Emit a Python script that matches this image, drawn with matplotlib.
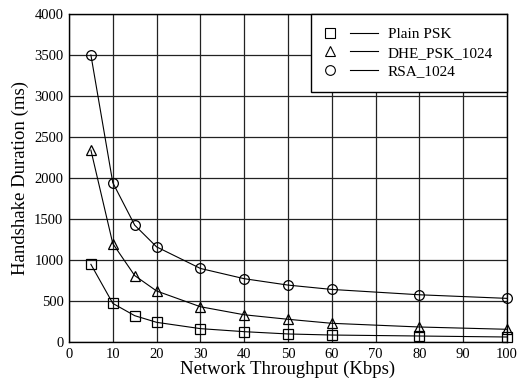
import matplotlib
matplotlib.use("Agg")
import matplotlib.pyplot as plt
from matplotlib.lines import Line2D

throughput = [5, 10, 15, 20, 30, 40, 50, 60, 80, 100]
plain_psk = [947, 471, 321, 240, 163, 126, 98, 85, 73, 61]
dhe_psk_1024 = [2340, 1200, 810, 622, 430, 332, 277, 228, 183, 155]
rsa_1024 = [3500, 1943, 1425, 1160, 897, 772, 694, 641, 576, 532]

series = [
    ("Plain PSK", plain_psk, "s"),
    ("DHE_PSK_1024", dhe_psk_1024, "^"),
    ("RSA_1024", rsa_1024, "o"),
]


class MarkerThenLine:
    # marker on the left, short line segment on the right (as in the original legend)
    def legend_artist(self, legend, orig_handle, fontsize, handlebox):
        x0, y0 = handlebox.xdescent, handlebox.ydescent
        w, h = handlebox.width, handlebox.height
        ym = y0 + h / 2
        m = Line2D([x0 + 0.11 * w], [ym], ls="none", marker=orig_handle.get_marker(),
                   markersize=7, markerfacecolor="none", markeredgecolor="black",
                   markeredgewidth=0.8)
        ln = Line2D([x0 + 0.47 * w, x0 + w], [ym, ym], color="black", lw=0.8)
        handlebox.add_artist(m)
        handlebox.add_artist(ln)
        return m


plt.rcParams["font.family"] = ["Liberation Serif", "DejaVu Serif"]

fig = plt.figure(figsize=(5.18, 3.78), dpi=100)
ax = fig.add_axes([69 / 518, 1 - 342 / 378, 438 / 518, 328 / 378])

lines = []
for label, vals, mk in series:
    ln, = ax.plot(throughput, vals, color="black", lw=0.8, marker=mk, markersize=7,
                  markerfacecolor="none", markeredgecolor="black", markeredgewidth=0.9,
                  clip_on=False, zorder=3, label=label)
    lines.append(ln)

ax.set_xlim(0, 100)
ax.set_ylim(0, 4000)
ax.set_xticks(range(0, 101, 10))
ax.set_yticks(range(0, 4001, 500))
ax.grid(True, color="#222222", lw=0.9)
ax.set_axisbelow(True)
ax.tick_params(length=0, labelsize=10.5, pad=4)
for sp in ax.spines.values():
    sp.set_linewidth(1.0)

ax.set_xlabel("Network Throughput (Kbps)", fontsize=13.5, labelpad=0)
ax.set_ylabel("Handshake Duration (ms)", fontsize=13.5, labelpad=4)

leg = ax.legend(handles=lines, handler_map={Line2D: MarkerThenLine()},
                loc="upper right", bbox_to_anchor=(1.0, 1.0), borderaxespad=0,
                fontsize=11, handlelength=3.5, handletextpad=0.65, labelspacing=0.3,
                fancybox=False, framealpha=1, edgecolor="black", borderpad=0.9)
leg.get_frame().set_linewidth(1.0)

fig.savefig("out.png", dpi=100)
